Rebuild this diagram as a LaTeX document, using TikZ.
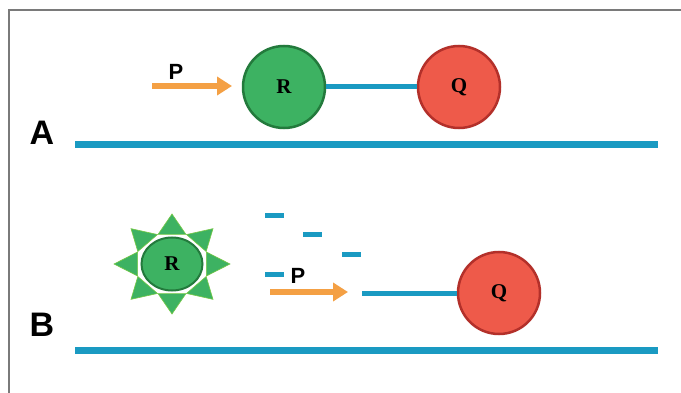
\documentclass[tikz,border=0pt]{standalone}
\usepackage{fontspec}
\setmainfont{Liberation Serif}
\newfontfamily\lsans{Liberation Sans}
\usetikzlibrary{arrows.meta,shapes.geometric}
\definecolor{gfill}{HTML}{3DB262}
\definecolor{gdraw}{HTML}{237A3C}
\definecolor{rfill}{HTML}{EE5A4A}
\definecolor{rdraw}{HTML}{B3302A}
\definecolor{mblue}{HTML}{1A9AC2}
\definecolor{morange}{HTML}{F4A044}
\definecolor{framec}{HTML}{7A7A7A}
\tikzset{
  ball/.style={circle, minimum size=82pt, inner sep=0pt, line width=2.5pt,
    font=\fontsize{21}{24}\selectfont\bfseries},
  rball/.style={ball, fill=gfill, draw=gdraw},
  qball/.style={ball, fill=rfill, draw=rdraw},
  tether/.style={draw=mblue, line width=5pt},
  membrane/.style={draw=mblue, line width=7pt},
  parrow/.style={draw=morange, line width=5.5pt, -{Triangle[length=15pt,width=18pt]}},
  plabel/.style={font=\lsans\fontsize{22}{24}\selectfont\bfseries, inner sep=0pt},
  panel/.style={font=\lsans\fontsize{34}{36}\selectfont\bfseries, inner sep=0pt},
  bar/.style={draw=mblue, line width=5pt},
  spike/.style={fill=gfill, draw=gfill!70!yellow, line width=0.6pt},
  starcore/.style={ellipse, minimum width=61pt, minimum height=53pt, inner sep=0pt,
    fill=gfill, draw=gdraw, line width=2pt, font=\fontsize{21}{24}\selectfont\bfseries},
}
\begin{document}
\begin{tikzpicture}[x=1pt,y=-1pt]
\useasboundingbox[fill=white] (0,0) rectangle (681,393);
% frame
\draw[framec, line width=1.5pt] (681,10) -- (9,10) -- (9,393);
% ---------- Panel A ----------
\node[panel] (labA) at (42,133) {A};
\coordinate (mAl) at (75,145);
\coordinate (mAr) at (658,145);
\draw[membrane] (mAl) -- (mAr);
\node[rball] (RA) at (284,87) {R};
\node[qball] (QA) at (459,87) {Q};
\draw[tether] (RA) -- (QA);
\coordinate (pAs) at (152,86);
\coordinate (pAe) at (232,86);
\draw[parrow] (pAs) -- (pAe);
\node[plabel] (PA) at (176,72) {P};
% ---------- Panel B ----------
\node[panel] (labB) at (42,325) {B};
\coordinate (mBl) at (75,350);
\coordinate (mBr) at (658,350);
\draw[membrane] (mBl) -- (mBr);
% star R
\begin{scope}[shift={(172,264)}, xscale=1.16]
  \foreach \a in {0,45,...,315}{
    \path[spike] (\a:50) -- (\a-22:32) -- (\a+22:32) -- cycle;
  }
\end{scope}
\node[starcore] (RB) at (172,264) {R};
% released fragments
\coordinate (d1a) at (265,216); \coordinate (d1b) at (284,216);
\coordinate (d2a) at (303,235); \coordinate (d2b) at (322,235);
\coordinate (d3a) at (342,255); \coordinate (d3b) at (361,255);
\coordinate (d4a) at (265,275); \coordinate (d4b) at (284,275);
\draw[bar] (d1a) -- (d1b);
\draw[bar] (d2a) -- (d2b);
\draw[bar] (d3a) -- (d3b);
\draw[bar] (d4a) -- (d4b);
\node[plabel] (PB) at (298,276) {P};
\coordinate (pBs) at (270,292);
\coordinate (pBe) at (348,292);
\draw[parrow] (pBs) -- (pBe);
\node[qball] (QB) at (499,293) {Q};
\coordinate (tB) at (362,294);
\draw[tether] (tB) -- (QB.west |- tB);
\end{tikzpicture}
\end{document}
